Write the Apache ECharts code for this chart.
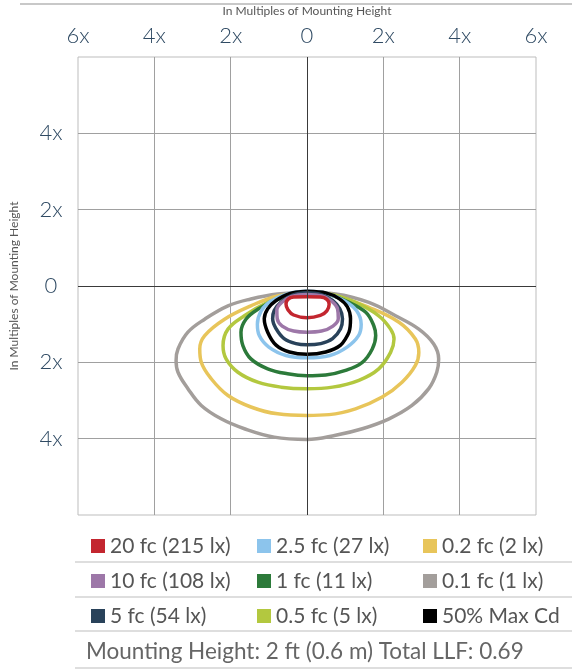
<!DOCTYPE html>
<html>
<head>
<meta charset="utf-8">
<title>Isofootcandle plot</title>
<script src="https://cdn.jsdelivr.net/npm/echarts@6/dist/echarts.min.js"></script>
<style>
  html, body { margin: 0; padding: 0; background: #fff; }
  #chart { width: 572px; height: 669px; }
</style>
</head>
<body>
<div id="chart"></div>
<script>
// axis ticks, in multiples of mounting height
const xTicks = [-6, -4, -2, 0, 2, 4, 6]
const yTicks = [-6, -4, -2, 0, 2, 4, 6]

// contour outlines [x, y]
const fc20 = [[0, -0.28], [-0.35, -0.29], [-0.5, -0.35], [-0.55, -0.47], [-0.5, -0.62], [-0.35, -0.76], [0, -0.83], [0.35, -0.77], [0.52, -0.65], [0.58, -0.48], [0.52, -0.35], [0.35, -0.29], [0, -0.28]]
const fc10 = [[0, -0.22], [-0.4, -0.27], [-0.65, -0.42], [-0.79, -0.63], [-0.78, -0.86], [-0.65, -1.05], [-0.35, -1.18], [0, -1.21], [0.38, -1.18], [0.68, -1.05], [0.82, -0.85], [0.8, -0.6], [0.65, -0.4], [0.4, -0.26], [0, -0.22]]
const fc5 = [[0, -0.18], [-0.38, -0.24], [-0.68, -0.42], [-0.86, -0.64], [-0.9, -0.86], [-0.81, -1.12], [-0.6, -1.38], [-0.29, -1.51], [0, -1.54], [0.36, -1.51], [0.67, -1.38], [0.88, -1.12], [0.93, -0.86], [0.86, -0.6], [0.67, -0.38], [0.36, -0.22], [0, -0.18]]
const fc25 = [[0, -0.14], [-0.5, -0.2], [-0.95, -0.4], [-1.2, -0.65], [-1.3, -1.0], [-1.25, -1.3], [-1.0, -1.6], [-0.55, -1.82], [0, -1.88], [0.6, -1.82], [1.05, -1.6], [1.35, -1.3], [1.42, -1.0], [1.3, -0.65], [1.0, -0.4], [0.5, -0.19], [0, -0.14]]
const fc1 = [[0, -0.18], [-0.33, -0.21], [-0.86, -0.39], [-1.29, -0.61], [-1.6, -0.87], [-1.73, -1.21], [-1.68, -1.56], [-1.47, -1.91], [-1.03, -2.17], [-0.51, -2.3], [0, -2.35], [0.49, -2.33], [1.01, -2.21], [1.45, -2.0], [1.71, -1.65], [1.8, -1.3], [1.75, -1.04], [1.54, -0.69], [1.1, -0.43], [0.49, -0.21], [0, -0.18]]
const fc05 = [[0, -0.17], [-0.42, -0.21], [-1.03, -0.43], [-1.64, -0.78], [-2.07, -1.13], [-2.2, -1.56], [-2.12, -1.91], [-1.81, -2.26], [-1.29, -2.52], [-0.68, -2.65], [0, -2.69], [0.67, -2.65], [1.36, -2.47], [1.88, -2.17], [2.19, -1.74], [2.28, -1.39], [2.19, -1.13], [1.88, -0.78], [1.27, -0.43], [0.58, -0.21], [0, -0.17]]
const fc02 = [[0, -0.17], [-0.77, -0.26], [-1.47, -0.52], [-2.16, -0.87], [-2.68, -1.3], [-2.81, -1.65], [-2.77, -2.0], [-2.51, -2.43], [-2.07, -2.87], [-1.47, -3.17], [-0.77, -3.35], [0, -3.39], [0.58, -3.37], [1.27, -3.22], [1.97, -2.91], [2.49, -2.52], [2.84, -2.08], [2.93, -1.74], [2.84, -1.39], [2.41, -0.95], [1.62, -0.56], [0.75, -0.26], [0, -0.17]]
const fc01 = [[0, -0.17], [-0.77, -0.21], [-1.47, -0.34], [-2.07, -0.52], [-2.68, -0.87], [-3.12, -1.21], [-3.38, -1.65], [-3.43, -1.95], [-3.38, -2.26], [-3.12, -2.69], [-2.77, -3.13], [-2.25, -3.48], [-1.64, -3.74], [-0.86, -3.96], [0, -4.02], [0.75, -3.91], [1.45, -3.74], [2.15, -3.48], [2.75, -3.13], [3.19, -2.69], [3.4, -2.26], [3.45, -1.91], [3.32, -1.52], [2.93, -1.13], [2.32, -0.78], [1.62, -0.43], [0.75, -0.21], [0, -0.17]]
const maxCd50 = [[0, -0.14], [-0.46, -0.2], [-0.81, -0.38], [-1.03, -0.6], [-1.12, -0.86], [-1.03, -1.21], [-0.81, -1.55], [-0.46, -1.73], [0, -1.79], [0.49, -1.73], [0.88, -1.55], [1.1, -1.21], [1.14, -0.86], [1.06, -0.55], [0.84, -0.33], [0.49, -0.18], [0, -0.14]]

const legendCols = [
  ['20 fc (215 lx)', '10 fc (108 lx)', '5 fc (54 lx)'],
  ['2.5 fc (27 lx)', '1 fc (11 lx)', '0.5 fc (5 lx)'],
  ['0.2 fc (2 lx)', '0.1 fc (1 lx)', '50% Max Cd']
]
const footerText = 'Mounting Height: 2 ft (0.6 m) Total LLF: 0.69'

// drawn outermost first so the inner rings sit on top
const contours = [
  { name: '0.1 fc (1 lx)', data: fc01, color: '#a39e9b' },
  { name: '0.2 fc (2 lx)', data: fc02, color: '#e8c55a' },
  { name: '0.5 fc (5 lx)', data: fc05, color: '#b3c83f' },
  { name: '1 fc (11 lx)', data: fc1, color: '#2c7a3a' },
  { name: '2.5 fc (27 lx)', data: fc25, color: '#8cc4ec' },
  { name: '50% Max Cd', data: maxCd50, color: '#000000', smooth: 0.25 },
  { name: '5 fc (54 lx)', data: fc5, color: '#29425a' },
  { name: '10 fc (108 lx)', data: fc10, color: '#9d77a8' },
  { name: '20 fc (215 lx)', data: fc20, color: '#c3262f' }
]

const chart = echarts.init(document.getElementById('chart'))
const font = 'Lato, sans-serif'
const multLabel = v => (v === 0 ? '0' : Math.abs(v) + 'x')

const series = contours.map(c => ({
  type: 'line',
  name: c.name,
  data: c.data,
  smooth: c.smooth || 0.4,
  showSymbol: false,
  silent: true,
  color: c.color,
  lineStyle: { color: c.color, width: 3.5 }
}))
// darker centre cross
series[0].markLine = {
  silent: true,
  symbol: 'none',
  label: { show: false },
  lineStyle: { color: '#3a3a3a', width: 1, type: 'solid' },
  data: [{ xAxis: 0 }, { yAxis: 0 }]
}

const legends = legendCols.map((col, i) => ({
  orient: 'vertical',
  left: [86, 252, 418][i],
  top: 530,
  itemWidth: 14,
  itemHeight: 14,
  itemGap: 13,
  icon: 'rect',
  selectedMode: false,
  data: col,
  textStyle: { fontFamily: font, fontSize: 21, color: '#555', lineHeight: 22 }
}))

const sepLines = [562, 597, 631, 668].map(y => ({
  type: 'line',
  shape: { x1: 75, y1: y, x2: 572, y2: y },
  style: { stroke: '#d3d3d3', lineWidth: 1.5 }
}))

chart.setOption({
  animation: false,
  grid: { left: 75, right: 36, top: 55, bottom: 154, show: true, borderColor: '#bdbdbd', borderWidth: 1 },
  xAxis: {
    type: 'value',
    position: 'top',
    min: xTicks[0],
    max: xTicks[xTicks.length - 1],
    interval: 2,
    name: 'In Multiples of Mounting Height',
    nameLocation: 'middle',
    nameGap: 40,
    nameTextStyle: { fontFamily: font, fontSize: 12, color: '#555' },
    axisLine: { show: false },
    axisTick: { show: false },
    axisLabel: { formatter: multLabel, fontFamily: font, fontSize: 22, fontWeight: 300, color: '#2f4a63', margin: 10 },
    splitLine: { show: true, showMinLine: false, showMaxLine: false, lineStyle: { color: '#a0a0a0', width: 1 } }
  },
  yAxis: {
    type: 'value',
    min: yTicks[0],
    max: yTicks[yTicks.length - 1],
    interval: 2,
    name: 'In Multiples of Mounting Height',
    nameLocation: 'middle',
    nameGap: 58,
    nameTextStyle: { fontFamily: font, fontSize: 12, color: '#555' },
    axisLine: { show: false },
    axisTick: { show: false },
    axisLabel: {
      formatter: v => (Math.abs(v) === 6 ? '' : multLabel(v)),
      fontFamily: font, fontSize: 22, fontWeight: 300, color: '#2f4a63', margin: 27, align: 'center'
    },
    splitLine: { show: true, showMinLine: false, showMaxLine: false, lineStyle: { color: '#a0a0a0', width: 1 } }
  },
  legend: legends,
  graphic: [
    { type: 'line', shape: { x1: 20, y1: 4, x2: 572, y2: 4 }, style: { stroke: '#c8c8c8', lineWidth: 2 } },
    ...sepLines,
    {
      type: 'text',
      left: 86,
      top: 640,
      style: { text: footerText, fontFamily: font, fontSize: 22.5, fill: '#666' }
    }
  ],
  series: series
})
</script>
</body>
</html>
